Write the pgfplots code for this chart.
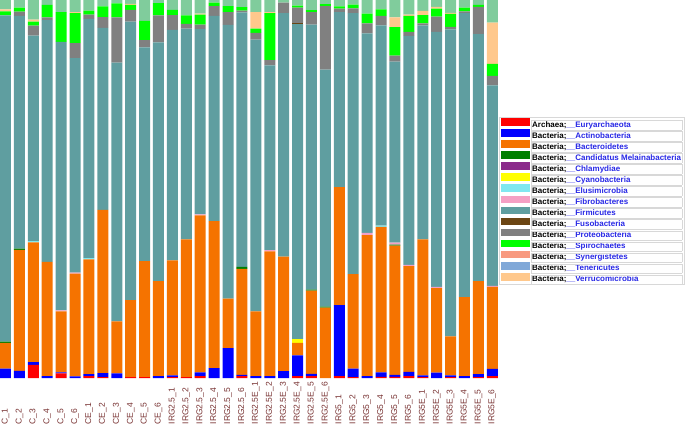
\documentclass[border=0pt]{standalone}
\usepackage{pgfplots}
\pgfplotsset{compat=1.18}
\usepackage{pgfplotstable}
\usepackage{fontspec}
\setmainfont{Liberation Sans}
\definecolor{cArch}{HTML}{FF0000}
\definecolor{cAct}{HTML}{0000FF}
\definecolor{cBact}{HTML}{F57300}
\definecolor{cCand}{HTML}{007F00}
\definecolor{cChla}{HTML}{8B2A8B}
\definecolor{cCyan}{HTML}{FFFF00}
\definecolor{cElus}{HTML}{80E8F0}
\definecolor{cFibr}{HTML}{F4A0C4}
\definecolor{cFirm}{HTML}{5F9EA0}
\definecolor{cFuso}{HTML}{6B4513}
\definecolor{cProt}{HTML}{808080}
\definecolor{cSpir}{HTML}{00FF00}
\definecolor{cSyne}{HTML}{F89A80}
\definecolor{cTene}{HTML}{80A8D8}
\definecolor{cVerr}{HTML}{FFC88C}
\definecolor{cOth}{HTML}{80CC9C}
\definecolor{labcol}{HTML}{783232}
\definecolor{legblue}{HTML}{2828E6}
\definecolor{legbox}{HTML}{D8D8D8}
\setlength{\fboxsep}{0.6pt}
\setlength{\fboxrule}{0.4pt}
\newcommand{\LE}[2]{\fcolorbox{legbox}{white}{\makebox[149pt][l]{\rule[-2pt]{0pt}{8pt}#1\textcolor{legblue}{\_\_#2}}}}

\pgfplotstableread{
x Arch Act Bact Cand Chla Cyan Elus Fibr Firm Fuso Prot Spir Syne Tene Verr Oth
0  0   2.5 6.8  0.3 0 0   0   0   86.3 0   0    1.1  0 0 0.5  2.5
1  0   1.9 32.0 0.3 0 0   0   0   61.6 0   1.1  1.1  0 0 0    2.0
2  3.5 0.7 31.7 0   0 0   0.3 0   54.4 0   2.6  1.1  0 0 0.5  5.2
3  0   0.5 30.2 0   0 0   0   0   64.0 0   0.7  3.3  0 0 0    1.3
4  1.2 0.3 16.1 0   0 0   0   0.3 71.0 0   0    7.9  0 0 0    3.2
5  0   0.4 27.2 0   0 0   0   0.3 56.7 0   4.0  7.9  0 0 0.3  3.2
6  0.5 0.5 30.4 0   0 0   0.3 0   63.3 0   1.1  1.1  0 0 0    2.8
7  0.2 1.1 43.2 0   0 0   0   0   48.1 0   2.9  2.8  0 0 0    1.7
8  0   1.2 13.8 0   0 0   0   0   68.4 0   12.0 3.7  0 0 0    0.9
9  0.2 0   20.4 0   0 0   0   0   73.7 0   3.1  1.3  0 0 0.3  1.0
10 0.2 0   30.7 0   0 0   0   0   56.6 0   1.9  5.1  0 0 0    5.5
11 0   0.5 25.1 0   0 0   0   0   63.2 0   7.1  3.3  0 0 0    0.8
12 0.2 0.5 30.4 0   0 0   0   0   61.0 0   3.9  1.4  0 0 0    2.6
13 0.2 0   36.5 0   0 0   0   0   55.7 0   1.3  2.2  0 0 0    4.1
14 0.5 1.0 41.5 0   0 0   0   0.3 49.0 0   1.2  2.6  0 0 0.3  3.6
15 0   2.6 38.9 0   0 0   0   0   54.3 0   2.6  0.9  0 0 0    0.7
16 0   7.9 13.1 0   0 0   0   0   72.4 0   3.4  1.6  0 0 0    1.6
17 0.5 0.3 28.1 0.5 0 0   0   0   67.3 0   0.5  0.9  0 0 0    1.9
18 0   0.5 17.1 0   0 0   0   0   71.9 0   1.8  1.1  0 0 4.4  3.2
19 0   0.5 33.0 0   0 0   0   0.3 48.9 0   1.4  12.4 0 0 0.3  3.2
20 0   1.8 30.3 0   0 0   0   0   64.4 0   2.8  0    0 0 0    0.7
21 0.5 5.5 3.3  0   0 0.9 0   0   83.4 0.3 4.1  0.5  0 0 0    1.5
22 0.5 0.6 22.0 0.3 0 0   0   0   70.1 0   3.3  0.5  0 0 0    2.7
23 0   0   18.6 0.3 0 0   0   0   62.7 0   16.8 0.5  0 0 0    1.1
24 0.5 18.8 31.2 0  0 0   0   0   46.3 0   0.9  0.6  0 0 0    1.7
25 0.2 2.3 25.0 0   0 0   0   0   69.0 0   1.3  1.0  0 0 0    1.2
26 0   0.5 37.3 0   0 0   0   0.6 52.8 0   2.6  2.6  0 0 0    3.6
27 0.3 1.2 38.5 0   0 0   0.3 0   53.0 0   2.5  1.7  0 0 0    2.5
28 0.3 0.5 34.2 0.3 0 0   0   0.5 47.9 0   1.6  7.5  0 0 2.6  4.6
29 0.5 1.1 28.0 0   0 0   0   0.3 60.6 0   1.1  4.2  0 0 0.3  3.9
30 0.2 0.5 36.0 0   0 0   0   0   56.6 0   0.5  2.2  0 0 1.1  2.9
31 0   1.4 22.4 0   0 0   0   0.3 67.5 0   4.0  2.1  0 0 0.5  1.8
32 0.2 0.5 10.3 0   0 0   0   0   81.2 0   0.7  3.4  0 0 0.3  3.4
33 0   0.5 20.9 0   0 0   0   0   75.1 0   0.5  1.0  0 0 0    2.0
34 0.2 0.8 24.6 0   0 0   0   0   65.4 0   7.2  0.5  0 0 0    1.3
35 0.5 1.9 21.7 0   0 0   0   0.3 53.0 0   2.5  3.2  0 0 10.9 6.0
}\data

\begin{document}
\begin{tikzpicture}
\useasboundingbox (0pt,-46pt) rectangle (686pt,378pt);
\begin{axis}[
  scale only axis, width=498pt, height=378pt,
  ybar stacked, bar width=0.79,
  xmin=-0.395, xmax=35.41, ymin=0, ymax=100,
  axis line style={draw=none},
  major tick length=0pt,
  ytick=\empty,
  xtick={0,...,35},
  xticklabels={C\_1,C\_2,C\_3,C\_4,C\_5,C\_6,CE\_1,CE\_2,CE\_3,CE\_4,CE\_5,CE\_6,
    IRG2.5\_1,IRG2.5\_2,IRG2.5\_3,IRG2.5\_4,IRG2.5\_5,IRG2.5\_6,
    IRG2.5E\_1,IRG2.5E\_2,IRG2.5E\_3,IRG2.5E\_4,IRG2.5E\_5,IRG2.5E\_6,
    IRG5\_1,IRG5\_2,IRG5\_3,IRG5\_4,IRG5\_5,IRG5\_6,
    IRG5E\_1,IRG5E\_2,IRG5E\_3,IRG5E\_4,IRG5E\_5,IRG5E\_6},
  xticklabel style={rotate=90, anchor=west, inner sep=0pt,
    font=\fontsize{8.5}{9}\selectfont, text=labcol},
  xticklabel shift=46.5pt,
  legend cell align=left,
  legend image code/.code={\fill[#1] (0pt,-1.6pt) rectangle (29pt,6.1pt);},
  legend style={at={(rel axis cs:1.002,0.6905)}, anchor=north west,
    draw=legbox, inner xsep=1.5pt, inner ysep=1pt,
    row sep=0.7pt, column sep=1.5pt,
    font=\fontsize{8}{9}\bfseries\selectfont,
    nodes={inner sep=0pt}},
]
\addplot[fill=cArch, draw=none] table[x=x,y=Arch]{\data};
\addlegendentry{\LE{Archaea;}{Euryarchaeota}}
\addplot[fill=cAct, draw=none] table[x=x,y=Act]{\data};
\addlegendentry{\LE{Bacteria;}{Actinobacteria}}
\addplot[fill=cBact, draw=none] table[x=x,y=Bact]{\data};
\addlegendentry{\LE{Bacteria;}{Bacteroidetes}}
\addplot[fill=cCand, draw=none] table[x=x,y=Cand]{\data};
\addlegendentry{\LE{Bacteria;}{Candidatus Melainabacteria}}
\addplot[fill=cChla, draw=none] table[x=x,y=Chla]{\data};
\addlegendentry{\LE{Bacteria;}{Chlamydiae}}
\addplot[fill=cCyan, draw=none] table[x=x,y=Cyan]{\data};
\addlegendentry{\LE{Bacteria;}{Cyanobacteria}}
\addplot[fill=cElus, draw=none] table[x=x,y=Elus]{\data};
\addlegendentry{\LE{Bacteria;}{Elusimicrobia}}
\addplot[fill=cFibr, draw=none] table[x=x,y=Fibr]{\data};
\addlegendentry{\LE{Bacteria;}{Fibrobacteres}}
\addplot[fill=cFirm, draw=none] table[x=x,y=Firm]{\data};
\addlegendentry{\LE{Bacteria;}{Firmicutes}}
\addplot[fill=cFuso, draw=none] table[x=x,y=Fuso]{\data};
\addlegendentry{\LE{Bacteria;}{Fusobacteria}}
\addplot[fill=cProt, draw=none] table[x=x,y=Prot]{\data};
\addlegendentry{\LE{Bacteria;}{Proteobacteria}}
\addplot[fill=cSpir, draw=none] table[x=x,y=Spir]{\data};
\addlegendentry{\LE{Bacteria;}{Spirochaetes}}
\addplot[fill=cSyne, draw=none] table[x=x,y=Syne]{\data};
\addlegendentry{\LE{Bacteria;}{Synergistetes}}
\addplot[fill=cTene, draw=none] table[x=x,y=Tene]{\data};
\addlegendentry{\LE{Bacteria;}{Tenericutes}}
\addplot[fill=cVerr, draw=none] table[x=x,y=Verr]{\data};
\addlegendentry{\LE{Bacteria;}{Verrucomicrobia}}
\addplot[fill=cOth, draw=none, forget plot] table[x=x,y=Oth]{\data};
\end{axis}
\end{tikzpicture}
\end{document}
